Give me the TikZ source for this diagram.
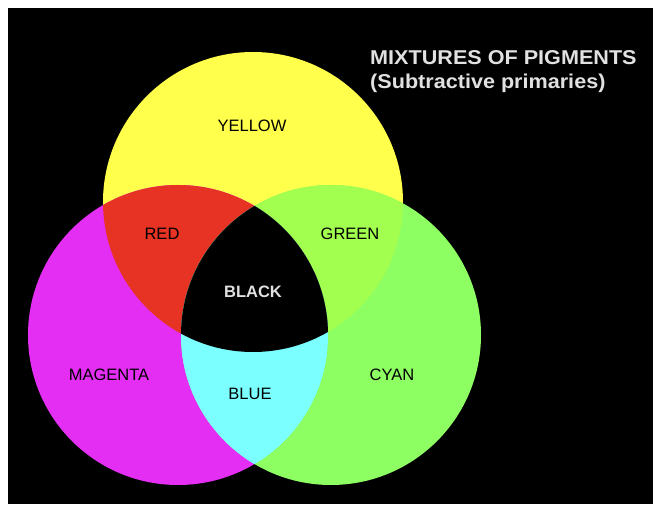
\documentclass[tikz,border=0pt]{standalone}
\usepackage{fontspec}
\setmainfont{Liberation Sans}
\definecolor{cyel}{RGB}{255,255,76}
\definecolor{cmag}{RGB}{228,46,244}
\definecolor{ccyan}{RGB}{141,255,99}
\definecolor{cred}{RGB}{230,51,36}
\definecolor{cgreen}{RGB}{162,255,79}
\definecolor{cblue}{RGB}{123,255,255}
\definecolor{ctitle}{RGB}{225,225,225}
\tikzset{
  lab/.style={inner sep=0pt, text=black, font=\fontsize{16.5}{18}\selectfont},
  blk/.style={inner sep=0pt, text=ctitle, font=\fontsize{16.5}{18}\selectfont\bfseries},
  ttl/.style={inner sep=0pt, text=ctitle, anchor=base west, xscale=1.08, font=\fontsize{20}{22}\selectfont\bfseries}
}
\begin{document}
\begin{tikzpicture}[x=1pt,y=-1pt]
\useasboundingbox (0,0) rectangle (662,518);
\fill[white] (0,0) rectangle (662,518);
\fill[black] (8,8) rectangle (653,504);
\def\Ycirc{(253,202) circle[radius=150]}
\def\Mcirc{(178,335) circle[radius=150]}
\def\Ccirc{(331,335) circle[radius=150]}
\fill[cyel] \Ycirc;
\fill[cmag] \Mcirc;
\fill[ccyan] \Ccirc;
\begin{scope}
  \clip \Ycirc;
  \fill[cred] \Mcirc;
  \fill[cgreen] \Ccirc;
  \clip \Mcirc;
  \fill[black] \Ccirc;
\end{scope}
\begin{scope}
  \clip \Mcirc;
  \clip \Ccirc;
  \fill[cblue] (0,352) rectangle (662,518);
  \fill[cblue] \Ccirc;
\end{scope}
\begin{scope}
  \clip \Ycirc; \clip \Mcirc;
  \fill[black] \Ccirc;
\end{scope}
\node[lab] (yellow) at (252,126) {YELLOW};
\node[lab] (red) at (162,234) {RED};
\node[lab] (green) at (350,234) {GREEN};
\node[blk] (black) at (253,292) {BLACK};
\node[lab] (magenta) at (109,375) {MAGENTA};
\node[lab] (blue) at (250,394) {BLUE};
\node[lab] (cyan) at (392,375) {CYAN};
\node[ttl] (title1) at (370,65) {MIXTURES OF PIGMENTS};
\node[ttl] (title2) at (370,89) {(Subtractive primaries)};
\end{tikzpicture}
\end{document}
